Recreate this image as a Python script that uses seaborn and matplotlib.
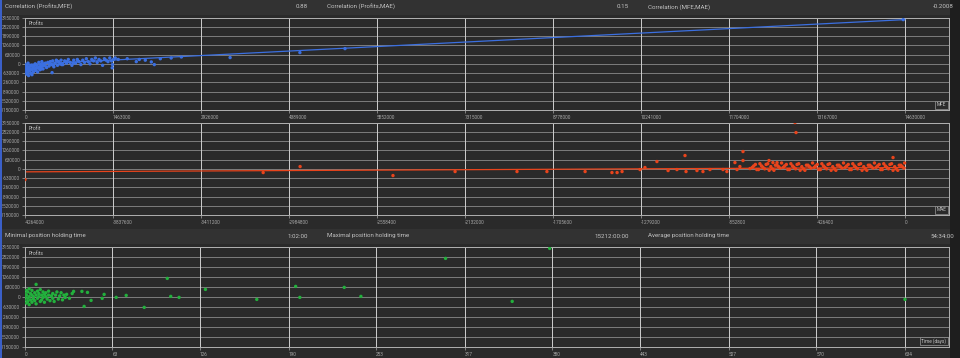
import matplotlib
matplotlib.use("Agg")
import matplotlib.pyplot as plt
import seaborn as sns
import pandas as pd
from matplotlib.patches import Rectangle

sns.set_theme(style="dark")
plt.rcParams['font.family'] = ['Roboto', 'DejaVu Sans']

# ---------------- data ----------------
profit_ticks = [-3150000, -2520000, -1890000, -1260000, -630000, 0,
                630000, 1260000, 1890000, 2520000, 3150000]
profit_tick_labels = ["-3150000", "-2520000", "-1890000", "-1260000", "-630000", "0",
                      "630000", "1260000", "1890000", "2520000", "3150000"]
mfe_ticks = [0, 1463000, 2926000, 4389000, 5852000, 7315000, 8778000,
             10241000, 11704000, 13167000, 14630000]
mae_ticks = [-4264000, -3837600, -3411200, -2984800, -2558400, -2132000,
             -1705600, -1279200, -852800, -426400, 0]
day_ticks = [0, 63, 126, 190, 253, 317, 380, 443, 507, 570, 634]

header1 = [("Correlation (Profits,MFE)", "0.88"),
           ("Correlation (Profits,MAE)", "0.15"),
           ("Correlation (MFE,MAE)", "-0.2008")]
header2 = [("Minimal position holding time", "1:02:00"),
           ("Maximal position holding time", "15212:00:00"),
           ("Average position holding time", "54:34:00")]

# Profits vs MFE (thousands)
mfe_k = [5, 10, 15, 20, 25, 30, 35, 40, 45, 50, 55, 60, 70, 80, 90, 100, 110, 120, 130, 140,
         150, 160, 170, 180, 190, 200, 210, 220, 230, 240, 250, 260, 270, 280, 290, 300, 320, 340, 360, 380,
         400, 420, 440, 460, 480, 500, 520, 540, 560, 580, 600, 630, 660, 690, 720, 750, 780, 810, 840, 870,
         900, 930, 960, 990, 1020, 1050, 1080, 1110, 1140, 1170, 1200, 1230, 1260, 1290, 1320, 1350, 1380,
         1410, 1440, 1470, 12, 28, 65, 95, 145, 175, 235, 265, 310, 350, 395, 470, 530, 610, 700, 800, 880,
         116, 450, 1450, 1455, 1500, 1550, 1700, 1850, 1900, 2000, 2100, 2150, 2250, 2430, 2600, 3410,
         4570, 5320, 14600]
profit_mfe_k = [-50, -300, -550, -150, -700, -400, -100, -600, -250, 50, -450, -800, -200, -500, -350,
                -650, -100, -400, -250, -550, -150, -350, 0, -450, -250, -100, -550, -300, 100, -200,
                -400, -50, -300, 150, -150, -350, -100, 50, -250, 100, -150, 150, -50, 200, -200, 50,
                250, -100, 150, 0, 250, -50, 200, 50, 300, 100, -100, 250, 50, 300, 150, -50, 250, 100,
                350, 150, 0, 300, 200, 400, 100, 300, 200, -100, 350, 250, 150, 400, 200, 300,
                -200, -450, -350, -150, -300, -50, -250, -350, 0, -200, 50, -100, 200, -50, 150, 50, 200,
                -740, -600, -270, -50, 400, 300, 350, 150, 300, 250, 130, -50, 350, 400, 470, 430,
                770, 1040, 3020]
trend_mfe_x = [0, 14630000]
trend_mfe_y = [-48000, 3020000]

# Profit vs MAE (thousands)
mae_k = [-4264, -3110, -2931, -2481, -2180, -1880, -1735, -1550, -1420, -1395, -1371, -1284, -1260,
         -1202, -1148, -1105, -1066, -1061, -1008, -979, -945, -882, -863, -824, -814, -800, -785,
         -785, -751, -659, -640, -620, -533, -528, -58,
         -740, -725, -710, -695, -680, -665, -650, -635, -620, -605, -590, -575, -560, -545, -530,
         -515, -500, -485, -470, -455, -440, -425, -410, -395, -380, -365, -350, -335, -320, -305,
         -290, -275, -260, -245, -230, -215, -200, -185, -170, -155, -140, -125, -110, -95, -80,
         -65, -50, -35, -20, -5,
         -733, -718, -703, -688, -673, -658, -643, -628, -613, -598, -583, -568, -553, -538, -523,
         -508, -493, -478, -463, -448, -433, -418, -403, -388, -373, -358, -343, -328, -313, -298,
         -283, -268, -253, -238, -223, -208, -193, -178, -163, -148, -133, -118, -103, -88, -73,
         -58, -43, -28, -13, -2]
profit_mae_k = [-730, -252, 157, -457, -184, -184, -184, -184, -252, -252, -184, -48, 89,
                498, -116, -48, 908, -184, -116, -184, -48, -48, -184, 430, -48, 157, 1181,
                567, 20, 567, 430, 430, 3160, 2478, 771,
                100, 300, -50, 200, 0, 350, 150, -100, 250, 50, 100, 300, -50, 200, 0,
                350, 150, -100, 250, 50, 100, 300, -50, 200, 0, 350, 150, -100, 250, 50,
                100, 300, -50, 200, 0, 350, 150, -100, 250, 50, 100, 300, -50, 200, 0,
                350, 150, -100, 250, 50,
                200, -50, 350, 100, 300, -100, 0, 250, 150, 400, 200, -50, 350, 100, 300,
                -100, 0, 250, 150, 400, 200, -50, 350, 100, 300, -100, 0, 250, 150, 400,
                200, -50, 350, 100, 300, -100, 0, 250, 150, 400, 200, -50, 350, 100, 300,
                -100, 0, 250, 150, 400]
trend_mae_x = [-4264000, 0]
trend_mae_y = [-205000, 90000]

# Profits vs Time (days, profit thousands)
days = [0, 0, 0, 1, 1, 1, 2, 2, 2, 3, 3, 3, 4, 4, 5, 5, 5, 6, 6, 7, 7, 8, 8, 8, 9, 9, 10, 10,
        11, 11, 12, 12, 13, 13, 14, 14, 15, 15, 16, 17, 17, 18, 19, 20, 20, 21, 22, 23, 24, 25,
        26, 27, 28, 29, 30, 32, 34,
        35, 41, 42.6, 45, 47.6, 55.6, 57, 65.7, 72.9, 85.9, 102.5, 105, 111, 130, 167, 195, 198,
        230, 242, 303, 351, 378, 634]
profit_days_k = [0, 200, -200, 400, -400, 100, -100, 300, -300, 500, 0, -500, 200, -200, 100, -350,
                 400, 0, -150, 250, -250, 100, -450, 775, 350, -100, 0, 200, -300, 450, 100, -200,
                 300, -50, 150, -350, 0, 250, -150, 350, 100, -250, 50, 200, -100, -300, 100, 300,
                 -150, 50, 250, -200, 100, -50, 150, -100, 200,
                 334, 334, -611, 271, -233, -107, 145, -44, 82, -674, 1153, 19, -44, 460, -170, 649,
                 -44, 586, 19, 2413, -296, 3043, -170]

# ---------------- figure ----------------
BG = "#2a2a2a"
fig = plt.figure(figsize=(9.6, 3.58), dpi=100, facecolor=BG)

TXT = "#c4c4c4"
TICK = "#a8a8a8"


def header(ypix):
    y0 = 1 - (ypix + 8) / 358
    fig.patches.append(Rectangle((0, y0), 1, 15 / 358, transform=fig.transFigure,
                                 facecolor="#323232", edgecolor="none", zorder=0))
    return 1 - ypix / 358


def put_header(items, ypix):
    yc = header(ypix)
    starts = [5, 327, 648]
    ends = [308, 629, 954]
    for (lab, val), s, e in zip(items, starts, ends):
        fig.text(s / 960, yc, lab, color=TXT, fontsize=4.4, va="center", ha="left")
        fig.text(e / 960, yc, val, color=TXT, fontsize=4.4, va="center", ha="right")


put_header(header1, 7)
put_header(header2, 236)

# right dark strip and left blue strip
fig.patches.append(Rectangle((950 / 960, 0), 10 / 960, 1, transform=fig.transFigure,
                             facecolor="#1e1e1e", edgecolor="none", zorder=0))
fig.patches.append(Rectangle((0, 0), 2 / 960, 1, transform=fig.transFigure,
                             facecolor="#3a5fc8", edgecolor="none", zorder=3))

left = 25 / 960
width = (949 - 25) / 960


def make_ax(top_px, bot_px):
    ax = fig.add_axes([left, 1 - bot_px / 358, width, (bot_px - top_px) / 358])
    ax.set_facecolor(BG)
    return ax


def style(ax, xticks, xlim, name, corner):
    ax.set_ylim(profit_ticks[0], profit_ticks[-1])
    ax.set_yticks(profit_ticks)
    ax.set_yticklabels(profit_tick_labels)
    ax.set_xticks(xticks)
    ax.set_xticklabels([str(t) for t in xticks])
    ax.set_xlim(*xlim)
    ax.grid(False)
    for y in profit_ticks:
        ax.axhline(y, color="#8a8a8a", lw=0.6, zorder=0.5)
    for x in xticks:
        ax.axvline(x, color="#cfcfcf", lw=0.7, zorder=0.6)
    for sp in ax.spines.values():
        sp.set_color("#b0b0b0")
        sp.set_linewidth(0.7)
    ax.tick_params(axis="both", colors=TICK, labelsize=3.4, length=2, width=0.5, pad=1.5,
                   bottom=True, left=True)
    for lab in ax.get_xticklabels():
        lab.set_horizontalalignment("left")
    ax.set_xlabel("")
    ax.set_ylabel("")
    ax.text(0.004, 0.96, name, transform=ax.transAxes, color=TXT, fontsize=3.6,
            va="top", ha="left")
    ax.text(0.997, 0.03, corner, transform=ax.transAxes, color=TXT, fontsize=3.4,
            va="bottom", ha="right",
            bbox=dict(boxstyle="square,pad=0.3", facecolor=BG, edgecolor="#9a9a9a", lw=0.5))


# Panel 1: Profits vs MFE
ax1 = make_ax(17.7, 110)
df1 = pd.DataFrame({"MFE": [v * 1000 for v in mfe_k], "Profits": [v * 1000 for v in profit_mfe_k]})
sns.scatterplot(data=df1, x="MFE", y="Profits", ax=ax1, color="#3b6fe0", s=6,
                edgecolor="none", linewidth=0, zorder=3)
sns.lineplot(x=trend_mfe_x, y=trend_mfe_y, ax=ax1, color="#3b6fe0", lw=0.9, zorder=2)
style(ax1, mfe_ticks, (0, mfe_ticks[-1] * 924 / 880), "Profits", "MFE")

# Panel 2: Profit vs MAE
ax2 = make_ax(122.7, 215)
df2 = pd.DataFrame({"MAE": [v * 1000 for v in mae_k], "Profit": [v * 1000 for v in profit_mae_k]})
sns.scatterplot(data=df2, x="MAE", y="Profit", ax=ax2, color="#e8441c", s=6,
                edgecolor="none", linewidth=0, zorder=3)
sns.lineplot(x=trend_mae_x, y=trend_mae_y, ax=ax2, color="#e8441c", lw=0.9, zorder=2)
style(ax2, mae_ticks, (mae_ticks[0], -mae_ticks[0] * 44 / 880), "Profit", "MAE")

# Panel 3: Profits vs Time
ax3 = make_ax(246.7, 346.7)
df3 = pd.DataFrame({"Time (days)": days, "Profits": [v * 1000 for v in profit_days_k]})
sns.scatterplot(data=df3, x="Time (days)", y="Profits", ax=ax3, color="#22b03c", s=6,
                edgecolor="none", linewidth=0, zorder=3)
style(ax3, day_ticks, (0, day_ticks[-1] * 924 / 880), "Profits", "Time (days)")

fig.savefig("out.png", dpi=100, facecolor=BG)
